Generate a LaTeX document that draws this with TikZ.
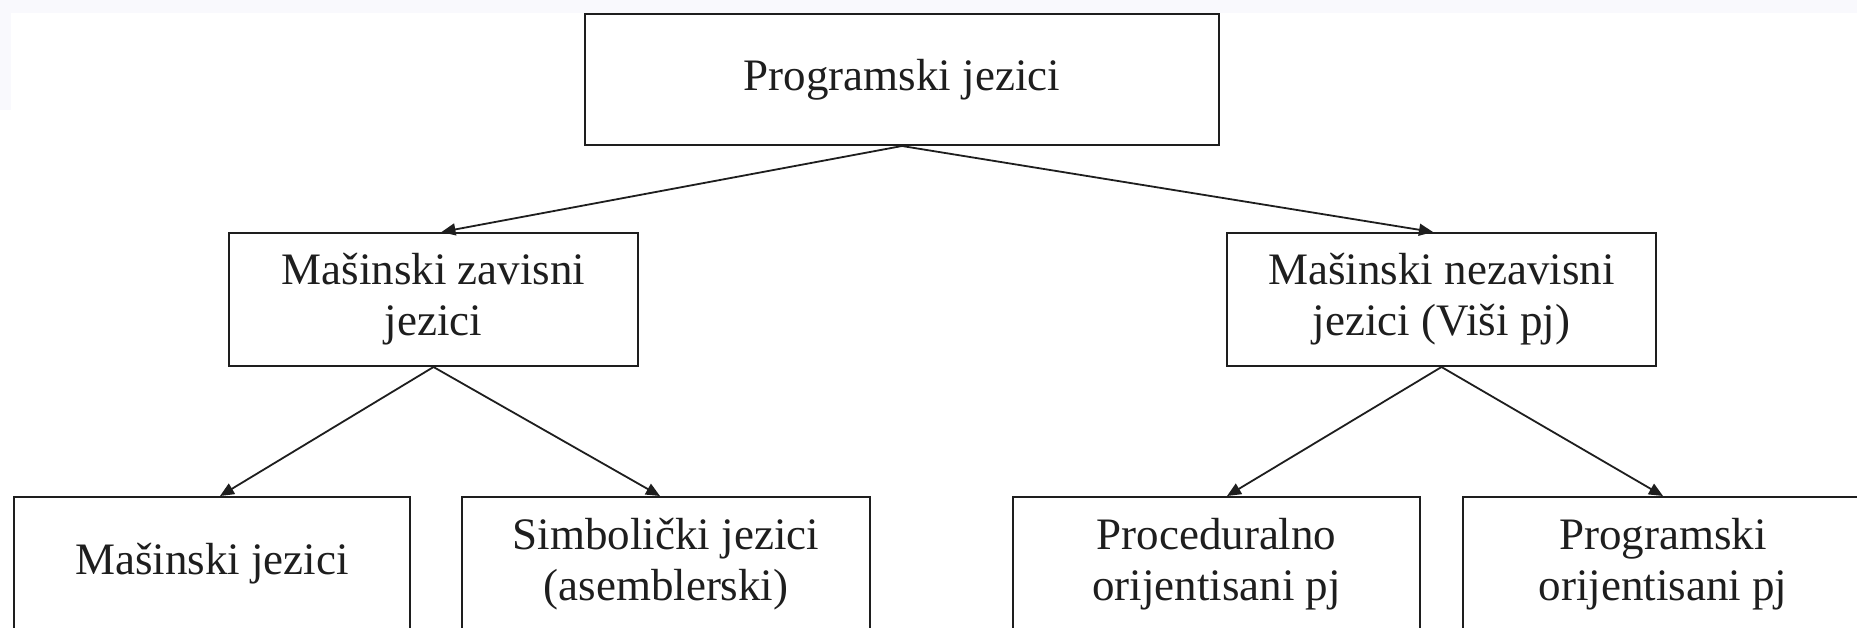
\documentclass[tikz,border=0pt]{standalone}
\usepackage{fontspec}
\setmainfont{Liberation Serif}
\usetikzlibrary{arrows.meta,calc}
\definecolor{bandc}{RGB}{249,249,253}
\definecolor{inkc}{RGB}{30,30,30}
\tikzset{
  box/.style={draw=inkc, line width=1pt, fill=white, rectangle, inner sep=0pt, align=center,
    text=inkc, font=\fontsize{22.5pt}{25.5pt}\selectfont},
  link/.style={draw=inkc, line width=0.9pt, -{Triangle[length=7pt,width=6pt]}}
}
\begin{document}
\begin{tikzpicture}[x=0.5pt,y=-0.5pt]
\useasboundingbox (0,0) rectangle (1857,627);
\clip (0,0) rectangle (1857,627);
\fill[white] (0,0) rectangle (1857,627);
\fill[bandc] (0,0) rectangle (1857,13);
\fill[bandc] (0,13) rectangle (11,110);

\node[box, minimum width=317pt, minimum height=65.5pt] (top) at (902,79.5) {Programski jezici};
\node[box, minimum width=204.5pt, minimum height=66.5pt] (m1) at (433.5,299.5) {Mašinski zavisni\\jezici};
\node[box, minimum width=214.5pt, minimum height=66.5pt] (m2) at (1441.5,299.5) {Mašinski nezavisni\\jezici (Viši pj)};
\node[box, minimum width=198pt, minimum height=67pt] (b1) at (212,564) {Mašinski jezici};
\node[box, minimum width=204pt, minimum height=67pt] (b2) at (666,564) {Simbolički jezici\\(asemblerski)};
\node[box, minimum width=203.5pt, minimum height=67pt] (b3) at (1216.5,564) {Proceduralno\\orijentisani pj};
\node[box, minimum width=200pt, minimum height=67pt] (b4) at (1663,564) {Programski\\orijentisani pj};

\draw[link] (top.south) -- ($(m1.north)+(8,0)$);
\draw[link] (top.south) -- ($(m2.north)+(-8.5,0)$);
\draw[link] (m1.south) -- ($(b1.north)+(8,0)$);
\draw[link] (m1.south) -- ($(b2.north)+(-6,0)$);
\draw[link] (m2.south) -- ($(b3.north)+(10.5,0)$);
\draw[link] (m2.south) -- (b4.north);
\end{tikzpicture}
\end{document}
